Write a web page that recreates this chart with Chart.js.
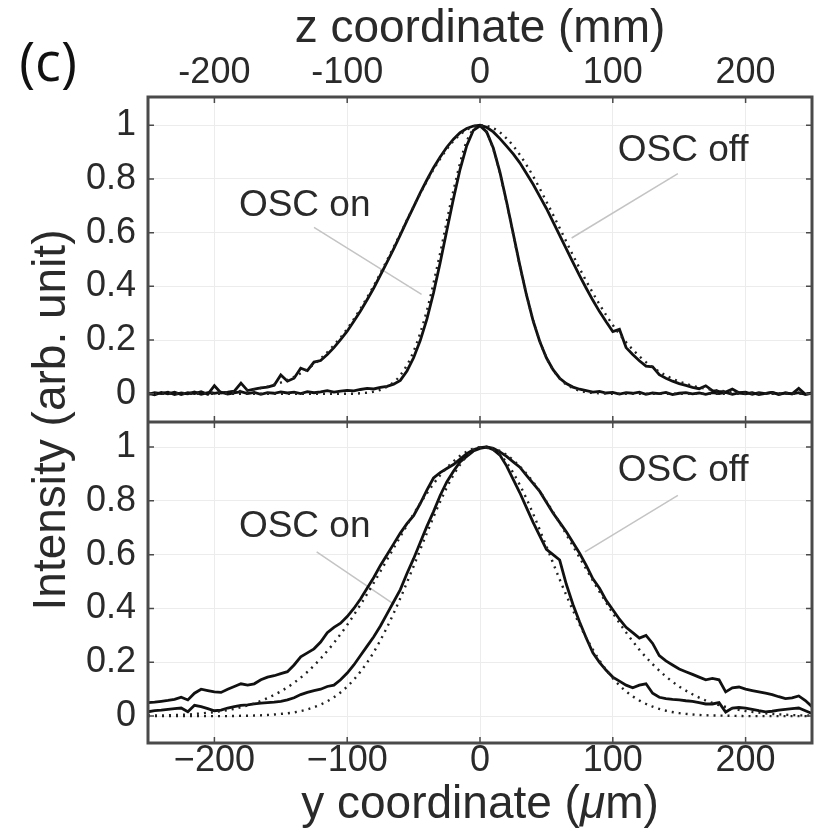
<!DOCTYPE html>
<html>
<head>
<meta charset="utf-8">
<script src="https://cdn.jsdelivr.net/npm/chart.js@4.4.1/dist/chart.umd.min.js"></script>
<style>
  html, body { margin: 0; padding: 0; background: #fff; }
</style>
</head>
<body>
<canvas id="profiles" width="819" height="835"></canvas>
<script>
// measured beam profiles, y coordinate in um (step 5)
const X_MEAS = [-250,-245,-240,-235,-230,-225,-220,-215,-210,-205,-200,-195,-190,-185,-180,-175,-170,-165,-160,-155,
  -150,-145,-140,-135,-130,-125,-120,-115,-110,-105,-100,-95,-90,-85,-80,-75,-70,-65,-60,-55,
  -50,-45,-40,-35,-30,-25,-20,-15,-10,-5,0,5,10,15,20,25,30,35,40,45,
  50,55,60,65,70,75,80,85,90,95,100,105,110,115,120,125,130,135,140,145,
  150,155,160,165,170,175,180,185,190,195,200,205,210,215,220,225,230,235,240,245,250];

const TOP_OFF = [0.002,-0.004,0.005,0.000,0.006,-0.003,0.004,0.001,0.008,-0.002,
  0.030,0.003,0.006,0.010,0.040,0.012,0.017,0.022,0.025,0.032,
  0.070,0.047,0.058,0.095,0.086,0.118,0.124,0.146,0.172,0.202,
  0.233,0.270,0.308,0.350,0.394,0.442,0.490,0.540,0.592,0.645,
  0.696,0.748,0.796,0.842,0.882,0.918,0.948,0.972,0.988,0.997,
  1.000,0.992,0.975,0.950,0.922,0.893,0.860,0.820,0.780,0.735,
  0.690,0.640,0.590,0.540,0.489,0.440,0.393,0.348,0.306,0.268,
  0.232,0.240,0.172,0.146,0.123,0.103,0.100,0.071,0.058,0.047,
  0.038,0.031,0.024,0.019,0.030,0.012,0.009,0.007,0.018,0.004,
  0.006,-0.002,0.004,0.001,0.005,-0.003,0.003,0.000,0.020,-0.002,0.003];

const TOP_ON = [-0.002,0.004,0.001,0.006,-0.003,0.003,0.000,0.007,-0.002,0.004,
  0.002,0.006,-0.001,0.003,0.008,0.001,0.005,-0.002,0.004,0.002,
  0.007,0.003,0.006,0.001,0.008,0.004,0.007,0.012,0.006,0.010,
  0.013,0.011,0.016,0.020,0.018,0.024,0.028,0.036,0.050,0.085,
  0.134,0.198,0.278,0.376,0.488,0.608,0.726,0.836,0.924,0.981,
  0.998,0.975,0.915,0.825,0.715,0.597,0.478,0.368,0.272,0.195,
  0.134,0.090,0.058,0.038,0.025,0.017,0.012,0.006,0.009,0.003,
  0.005,-0.001,0.004,0.002,0.006,-0.002,0.003,0.001,0.005,-0.003,
  0.002,0.004,0.000,0.003,-0.002,0.004,0.001,0.005,-0.002,0.003,
  0.000,0.004,-0.003,0.002,0.005,-0.001,0.003,0.000,0.004,-0.002,0.002];

const BOT_OFF = [0.050,0.052,0.055,0.058,0.062,0.070,0.060,0.085,0.100,0.095,
  0.090,0.088,0.100,0.110,0.120,0.115,0.120,0.135,0.145,0.150,
  0.158,0.165,0.190,0.220,0.235,0.250,0.275,0.310,0.330,0.345,
  0.370,0.400,0.435,0.475,0.515,0.560,0.600,0.640,0.680,0.715,
  0.745,0.790,0.840,0.885,0.905,0.920,0.935,0.955,0.975,0.990,
  0.998,1.000,0.995,0.982,0.965,0.945,0.925,0.895,0.865,0.835,
  0.795,0.755,0.720,0.685,0.645,0.605,0.560,0.510,0.475,0.430,
  0.395,0.360,0.330,0.310,0.290,0.300,0.270,0.225,0.205,0.190,
  0.175,0.165,0.155,0.145,0.135,0.140,0.135,0.090,0.105,0.108,
  0.100,0.095,0.090,0.085,0.080,0.072,0.065,0.068,0.075,0.058,0.035];

const BOT_ON = [0.016,0.020,0.022,0.025,0.028,0.030,0.016,0.040,0.035,0.028,
  0.020,0.022,0.030,0.035,0.040,0.042,0.045,0.048,0.050,0.052,
  0.055,0.060,0.068,0.080,0.088,0.095,0.100,0.110,0.115,0.135,
  0.160,0.190,0.225,0.260,0.295,0.335,0.380,0.425,0.470,0.530,
  0.585,0.645,0.705,0.760,0.820,0.870,0.910,0.945,0.965,0.985,
  0.995,1.000,0.990,0.970,0.930,0.880,0.830,0.775,0.720,0.670,
  0.620,0.600,0.580,0.490,0.415,0.350,0.290,0.235,0.200,0.170,
  0.145,0.130,0.115,0.105,0.115,0.120,0.085,0.070,0.065,0.062,
  0.060,0.057,0.055,0.050,0.045,0.045,0.050,0.015,0.030,0.032,
  0.030,0.025,0.020,0.016,0.018,0.022,0.025,0.028,0.030,0.020,0.010];

// Gaussian fits (dotted), step 10
const X_FIT = [-250,-240,-230,-220,-210,-200,-190,-180,-170,-160,-150,-140,-130,-120,-110,-100,-90,-80,-70,-60,
  -50,-40,-30,-20,-10,0,10,20,30,40,50,60,70,80,90,100,110,120,130,140,
  150,160,170,180,190,200,210,220,230,240,250];

const TOP_OFF_FIT = [0.000,0.000,0.001,0.001,0.002,0.004,0.006,0.011,0.017,0.027,
  0.042,0.063,0.092,0.131,0.181,0.242,0.317,0.402,0.497,0.596,
  0.697,0.792,0.875,0.941,0.983,1.000,0.989,0.951,0.890,0.810,
  0.716,0.617,0.516,0.420,0.333,0.256,0.192,0.140,0.099,0.068,
  0.046,0.030,0.019,0.012,0.007,0.004,0.002,0.001,0.001,0.000,0.000];

const TOP_ON_FIT = [0,0,0,0,0,0,0,0,0,0,0,0,0,0,0,0,
  0.002,0.008,0.026,0.069,0.158,0.310,0.524,0.757,0.940,0.999,0.911,0.712,0.477,0.275,0.135,0.057,0.021,0.006,0.002,
  0,0,0,0,0,0,0,0,0,0,0,0,0,0,0,0];

const BOT_OFF_FIT = [0.002,0.002,0.004,0.006,0.010,0.015,0.022,0.033,0.047,0.067,
  0.092,0.124,0.164,0.214,0.272,0.339,0.414,0.495,0.581,0.667,
  0.751,0.828,0.895,0.947,0.983,0.999,0.995,0.971,0.928,0.870,
  0.798,0.718,0.632,0.546,0.462,0.383,0.311,0.247,0.193,0.147,
  0.110,0.081,0.058,0.041,0.028,0.019,0.013,0.008,0.005,0.003,0.002];

const BOT_ON_FIT = [0,0,0,0,0,0,0,0.001,0.002,0.004,
  0.008,0.014,0.025,0.043,0.070,0.110,0.165,0.238,0.330,0.438,
  0.557,0.680,0.797,0.896,0.965,0.998,0.990,0.942,0.859,0.752,
  0.631,0.508,0.393,0.291,0.207,0.141,0.092,0.058,0.035,0.020,
  0.011,0.006,0.003,0.002,0.001,0,0,0,0,0,0];

const X_TICKS = [-200, -100, 0, 100, 200];
const X_TICK_LABELS = ['\u2212200', '\u2212100', '0', '100', '200'];
const Z_TICK_LABELS = ['-200', '-100', '0', '100', '200'];
const Y_TICKS = [0, 0.2, 0.4, 0.6, 0.8, 1];
const Y_TICK_LABELS = ['0', '0.2', '0.4', '0.6', '0.8', '1'];

// curve labels and their leader lines (data coordinates)
const LABEL_TEXT = ['OSC on', 'OSC off', 'OSC on', 'OSC off'];
const LABEL_PANEL = ['yTop', 'yTop', 'yBot', 'yBot'];
const LABEL_X = [-132, 153, -132, 153];
const LABEL_Y = [0.70, 0.905, 0.705, 0.91];
const LEADER_X = [[-125, -44], [149, 69], [-123, -66], [149, 79]];
const LEADER_Y = [[0.62, 0.37], [0.82, 0.58], [0.61, 0.42], [0.82, 0.61]];

const FONT = '"Liberation Sans", Arial, sans-serif';
const INK = '#2a2a2a';

const pts = (xs, ys) => xs.map((x, i) => ({ x, y: ys[i] }));

function measured(ys, axis) {
  return { data: pts(X_MEAS, ys), yAxisID: axis, borderColor: '#111', borderWidth: 2.8,
    pointRadius: 0, tension: 0, fill: false };
}
function fitted(ys, axis) {
  return { data: pts(X_FIT, ys), yAxisID: axis, borderColor: '#222', borderWidth: 2.4,
    borderDash: [2, 5], pointRadius: 0, cubicInterpolationMode: 'monotone', fill: false };
}

const leaders = LEADER_X.map((xs, i) => ({
  data: pts(xs, LEADER_Y[i]), yAxisID: LABEL_PANEL[i], borderColor: '#c4c4c4',
  borderWidth: 1.5, pointRadius: 0, fill: false
}));

const decor = {
  id: 'decor',
  afterDatasetsDraw(chart) {
    const ctx = chart.ctx;
    const xs = chart.scales.x;
    ctx.save();
    ctx.fillStyle = INK;
    ctx.font = '37px ' + FONT;
    ctx.textAlign = 'center';
    ctx.textBaseline = 'middle';
    LABEL_TEXT.forEach((t, i) => {
      const ys = chart.scales[LABEL_PANEL[i]];
      ctx.fillText(t, xs.getPixelForValue(LABEL_X[i]), ys.getPixelForValue(LABEL_Y[i]));
    });
    ctx.restore();
  },
  afterDraw(chart) {
    const ctx = chart.ctx;
    const a = chart.chartArea;
    const xs = chart.scales.x;
    const panels = [chart.scales.yTop, chart.scales.yBot];
    ctx.save();
    ctx.strokeStyle = '#4a4a4a';
    ctx.lineWidth = 3;
    ctx.strokeRect(a.left, a.top, a.right - a.left, a.bottom - a.top);
    ctx.beginPath();
    ctx.moveTo(a.left, panels[0].bottom);
    ctx.lineTo(a.right, panels[0].bottom);
    ctx.stroke();

    // small inward tick marks
    ctx.lineWidth = 1.5;
    ctx.beginPath();
    panels.forEach(ys => {
      X_TICKS.forEach(v => {
        const px = xs.getPixelForValue(v);
        ctx.moveTo(px, ys.top); ctx.lineTo(px, ys.top + 6);
        ctx.moveTo(px, ys.bottom); ctx.lineTo(px, ys.bottom - 6);
      });
      Y_TICKS.forEach(v => {
        const py = ys.getPixelForValue(v);
        ctx.moveTo(a.left, py); ctx.lineTo(a.left + 6, py);
        ctx.moveTo(a.right, py); ctx.lineTo(a.right - 6, py);
      });
    });
    ctx.stroke();

    ctx.fillStyle = INK;
    ctx.textAlign = 'center';
    ctx.textBaseline = 'middle';
    ctx.font = '46px ' + FONT;
    ctx.save();
    ctx.translate(52, (a.top + a.bottom) / 2);
    ctx.rotate(-Math.PI / 2);
    ctx.fillText('Intensity (arb. unit)', 0, 0);
    ctx.restore();

    // bottom axis title with italic mu
    const parts = [['y coordinate (', '46px ' + FONT], ['\u03bc', 'italic 46px ' + FONT], ['m)', '46px ' + FONT]];
    let total = 0;
    parts.forEach(p => { ctx.font = p[1]; total += ctx.measureText(p[0]).width; });
    let cx = (a.left + a.right) / 2 - total / 2;
    const ty = xs.bottom - 30;
    ctx.textAlign = 'left';
    parts.forEach(p => {
      ctx.font = p[1];
      ctx.fillText(p[0], cx, ty);
      cx += ctx.measureText(p[0]).width;
    });

    ctx.fillStyle = '#111';
    ctx.font = '54px "Open Sans", sans-serif';
    ctx.textAlign = 'center';
    ctx.fillText('(c)', 48, 66);
    ctx.restore();
  }
};

const tickFont = { family: FONT, size: 36, lineHeight: 1 };
const titleFont = { family: FONT, size: 46, lineHeight: 1 };
const gridStyle = { color: '#ececec', lineWidth: 1, drawTicks: false };

function yAxis(min, max, weight, stackWeight) {
  return {
    type: 'linear', position: 'left', stack: 'panels', stackWeight, weight,
    min, max,
    afterBuildTicks: s => { s.ticks = Y_TICKS.map(v => ({ value: v })); },
    afterFit: s => { s.width = 148; },
    ticks: { callback: v => Y_TICK_LABELS[Y_TICKS.indexOf(v)], font: tickFont, color: INK, padding: 12 },
    grid: gridStyle,
    border: { display: false }
  };
}

new Chart(document.getElementById('profiles'), {
  type: 'line',
  data: {
    datasets: [
      fitted(TOP_OFF_FIT, 'yTop'), fitted(TOP_ON_FIT, 'yTop'),
      fitted(BOT_OFF_FIT, 'yBot'), fitted(BOT_ON_FIT, 'yBot'),
      measured(TOP_OFF, 'yTop'), measured(TOP_ON, 'yTop'),
      measured(BOT_OFF, 'yBot'), measured(BOT_ON, 'yBot'),
      ...leaders
    ]
  },
  options: {
    responsive: false,
    animation: false,
    events: [],
    layout: { padding: { left: 0, right: 7, top: 0, bottom: 0 } },
    plugins: { legend: { display: false }, tooltip: { enabled: false } },
    scales: {
      x: {
        type: 'linear', position: 'bottom', min: -250, max: 250,
        afterBuildTicks: s => { s.ticks = X_TICKS.map(v => ({ value: v })); },
        afterFit: s => { s.height = 92; },
        ticks: { callback: v => X_TICK_LABELS[X_TICKS.indexOf(v)], font: tickFont, color: INK,
          padding: 0, maxRotation: 0, autoSkip: false },
        grid: gridStyle,
        border: { display: false },
        title: { display: false }
      },
      x2: {
        type: 'linear', position: 'top', min: -250, max: 250,
        afterBuildTicks: s => { s.ticks = X_TICKS.map(v => ({ value: v })); },
        afterFit: s => { s.height = 97; },
        ticks: { callback: v => Z_TICK_LABELS[X_TICKS.indexOf(v)], font: tickFont, color: INK,
          padding: 6, maxRotation: 0, autoSkip: false },
        grid: { display: false, drawTicks: false },
        border: { display: false },
        title: { display: true, text: 'z coordinate (mm)', font: titleFont, color: INK,
          padding: { top: 6, bottom: 0 } }
      },
      yTop: yAxis(-0.105, 1.105, 1, 325),
      yBot: yAxis(-0.1, 1.093, 0, 321)
    }
  },
  plugins: [decor]
});
</script>
</body>
</html>
